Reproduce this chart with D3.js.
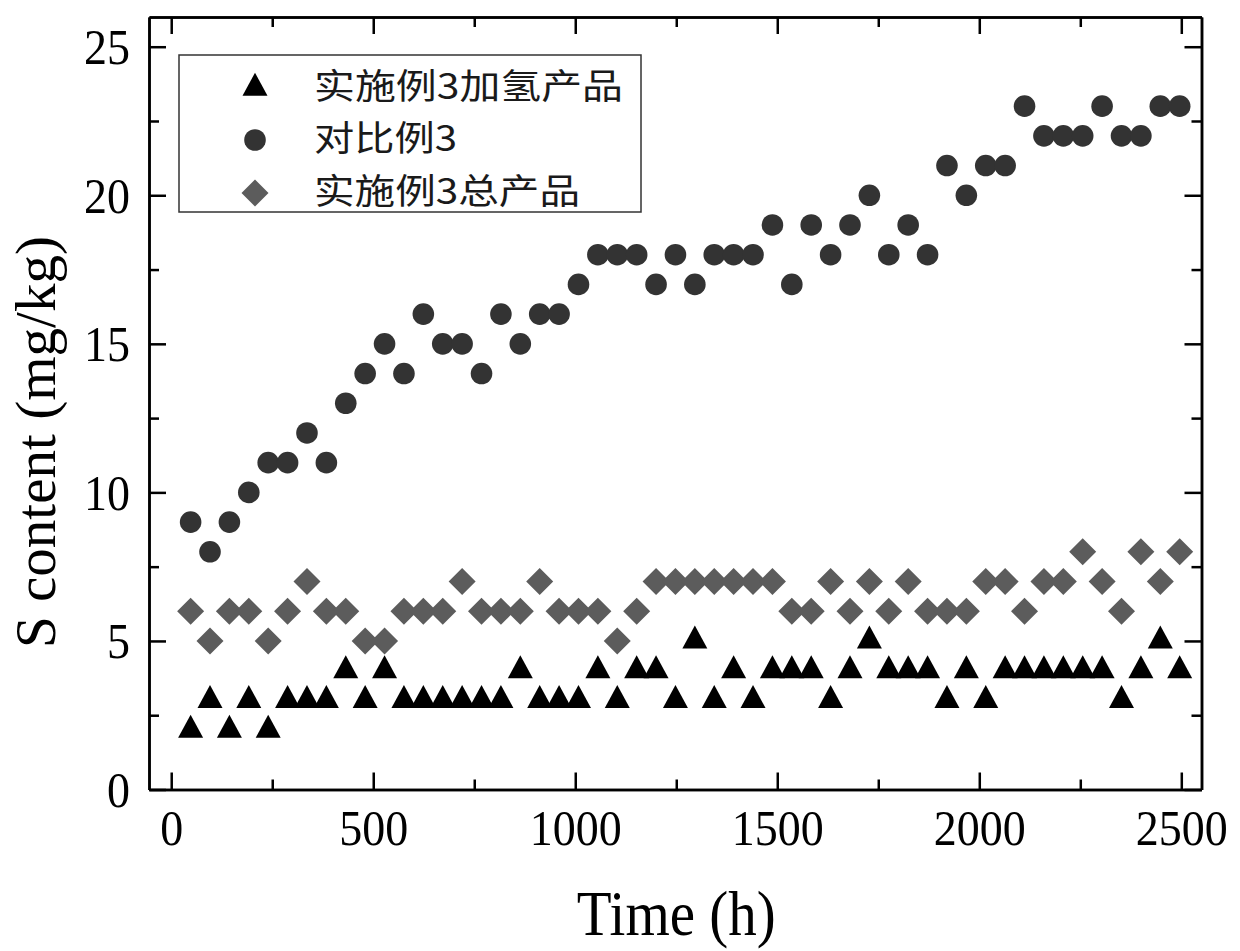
<!DOCTYPE html>
<html>
<head>
<meta charset="utf-8">
<script src="https://cdn.jsdelivr.net/npm/d3@7"></script>
<style>
  html, body { margin: 0; padding: 0; background: #ffffff; }
  svg { display: block; }
</style>
</head>
<body>
<svg id="chart" width="1240" height="951"></svg>
<script>
// ---------------- DATA ----------------
const timeHours = [48, 96, 144, 192, 240, 288, 336, 384, 432, 480,
  528, 576, 624, 672, 720, 768, 816, 864, 912, 960,
  1008, 1056, 1104, 1152, 1200, 1248, 1296, 1344, 1392, 1440,
  1488, 1536, 1584, 1632, 1680, 1728, 1776, 1824, 1872, 1920,
  1968, 2016, 2064, 2112, 2160, 2208, 2256, 2304, 2352, 2400,
  2448, 2496];

// 实施例3加氢产品 (triangles)
const hydroProduct = [2, 3, 2, 3, 2, 3, 3, 3, 4, 3,
  4, 3, 3, 3, 3, 3, 3, 4, 3, 3,
  3, 4, 3, 4, 4, 3, 5, 3, 4, 3,
  4, 4, 4, 3, 4, 5, 4, 4, 4, 3,
  4, 3, 4, 4, 4, 4, 4, 4, 3, 4,
  5, 4];

// 对比例3 (circles)
const comparative = [9, 8, 9, 10, 11, 11, 12, 11, 13, 14,
  15, 14, 16, 15, 15, 14, 16, 15, 16, 16,
  17, 18, 18, 18, 17, 18, 17, 18, 18, 18,
  19, 17, 19, 18, 19, 20, 18, 19, 18, 21,
  20, 21, 21, 23, 22, 22, 22, 23, 22, 22,
  23, 23];

// 实施例3总产品 (diamonds)
const totalProduct = [6, 5, 6, 6, 5, 6, 7, 6, 6, 5,
  5, 6, 6, 6, 7, 6, 6, 6, 7, 6,
  6, 6, 5, 6, 7, 7, 7, 7, 7, 7,
  7, 6, 6, 7, 6, 7, 6, 7, 6, 6,
  6, 7, 7, 6, 7, 7, 8, 7, 6, 8,
  7, 8];

const seriesNames = ["实施例3加氢产品", "对比例3", "实施例3总产品"];
const xTickValues = [0, 500, 1000, 1500, 2000, 2500];
const xMinorValues = [250, 750, 1250, 1750, 2250];
const yTickValues = [0, 5, 10, 15, 20, 25];
const yMinorValues = [2.5, 7.5, 12.5, 17.5, 22.5];
const xTitle = "Time (h)";
const yTitle = "S content (mg/kg)";

// ---------------- LAYOUT ----------------
const plot = { left: 149, right: 1201.5, top: 17, bottom: 789.5 };
const svg = d3.select("#chart");
svg.append("rect").attr("width", 1240).attr("height", 951).attr("fill", "#fff");

const x = d3.scaleLinear().domain([-55, 2550]).range([plot.left, plot.right]);
const y = d3.scaleLinear().domain([0, 26]).range([plot.bottom, plot.top]);

const serifFont = "'Liberation Serif', 'Times New Roman', serif";
const cjkFont = "'Noto Sans CJK SC', 'Noto Sans', sans-serif";
const axisStroke = 2.5;

// custom symbol shapes
const triangleType = {
  draw(ctx, size) {
    const w = Math.sqrt(size) * 1.0, h = w * 0.92;
    ctx.moveTo(0, -2 * h / 3);
    ctx.lineTo(w / 2, h / 3);
    ctx.lineTo(-w / 2, h / 3);
    ctx.closePath();
  }
};
const diamondType = {
  draw(ctx, size) {
    const r = Math.sqrt(size) / 2;
    ctx.moveTo(0, -r);
    ctx.lineTo(r, 0);
    ctx.lineTo(0, r);
    ctx.lineTo(-r, 0);
    ctx.closePath();
  }
};

const series = [
  { name: seriesNames[0], values: hydroProduct, type: triangleType, size: 25 * 25, color: "#000000" },
  { name: seriesNames[1], values: comparative, type: d3.symbolCircle, size: Math.PI * 10.8 * 10.8, color: "#333333" },
  { name: seriesNames[2], values: totalProduct, type: diamondType, size: 27 * 27, color: "#5c5c5c" }
];

// ---------------- AXES ----------------
function styleAxis(g) {
  g.select(".domain").attr("stroke", "#000").attr("stroke-width", axisStroke);
  g.selectAll(".tick line").attr("stroke", "#000").attr("stroke-width", axisStroke);
}

// bottom
const gB = svg.append("g").attr("transform", `translate(0,${plot.bottom})`)
  .call(d3.axisBottom(x).tickValues(xTickValues).tickSize(-17).tickSizeOuter(0).tickFormat(d3.format("d")));
styleAxis(gB);
gB.selectAll("text")
  .attr("y", 0).attr("dy", null)
  .attr("transform", "translate(0,55) scale(1,1.1)")
  .attr("font-family", serifFont).attr("font-size", 46).attr("fill", "#000");
const gBm = svg.append("g").attr("transform", `translate(0,${plot.bottom})`)
  .call(d3.axisBottom(x).tickValues(xMinorValues).tickSize(-10).tickSizeOuter(0).tickFormat(""));
styleAxis(gBm);

// top
const gT = svg.append("g").attr("transform", `translate(0,${plot.top})`)
  .call(d3.axisTop(x).tickValues(xTickValues).tickSize(-17).tickSizeOuter(0).tickFormat(""));
styleAxis(gT);
const gTm = svg.append("g").attr("transform", `translate(0,${plot.top})`)
  .call(d3.axisTop(x).tickValues(xMinorValues).tickSize(-10).tickSizeOuter(0).tickFormat(""));
styleAxis(gTm);

// left
const gL = svg.append("g").attr("transform", `translate(${plot.left},0)`)
  .call(d3.axisLeft(y).tickValues(yTickValues).tickSize(-17).tickSizeOuter(0).tickFormat(d3.format("d")));
styleAxis(gL);
gL.selectAll("text")
  .attr("x", 0).attr("dy", null)
  .attr("transform", "translate(-19,17) scale(1,1.1)")
  .attr("font-family", serifFont).attr("font-size", 46).attr("fill", "#000");
const gLm = svg.append("g").attr("transform", `translate(${plot.left},0)`)
  .call(d3.axisLeft(y).tickValues(yMinorValues).tickSize(-10).tickSizeOuter(0).tickFormat(""));
styleAxis(gLm);

// right
const gR = svg.append("g").attr("transform", `translate(${plot.right},0)`)
  .call(d3.axisRight(y).tickValues(yTickValues).tickSize(-17).tickSizeOuter(0).tickFormat(""));
styleAxis(gR);
const gRm = svg.append("g").attr("transform", `translate(${plot.right},0)`)
  .call(d3.axisRight(y).tickValues(yMinorValues).tickSize(-10).tickSizeOuter(0).tickFormat(""));
styleAxis(gRm);

// ---------------- TITLES ----------------
svg.append("text")
  .attr("transform", `translate(${(x(0) + x(2500)) / 2},935) scale(1,1.1)`)
  .attr("text-anchor", "middle")
  .attr("font-family", serifFont).attr("font-size", 57).attr("fill", "#000")
  .text(xTitle);

svg.append("text")
  .attr("transform", "translate(55,442) rotate(-90)")
  .attr("text-anchor", "middle")
  .attr("font-family", serifFont).attr("font-size", 58).attr("fill", "#000")
  .attr("textLength", 412).attr("lengthAdjust", "spacingAndGlyphs")
  .text(yTitle);

// ---------------- DATA POINTS ----------------
const symbolGen = d3.symbol();
series.forEach(s => {
  svg.append("g").selectAll("path")
    .data(s.values.map((v, i) => ({ t: timeHours[i], v })))
    .join("path")
    .attr("d", symbolGen.type(s.type).size(s.size)())
    .attr("transform", d => `translate(${x(d.t)},${y(d.v)})`)
    .attr("fill", s.color);
});

// ---------------- LEGEND ----------------
const legend = svg.append("g");
legend.append("rect")
  .attr("x", 179).attr("y", 55).attr("width", 462).attr("height", 157)
  .attr("fill", "#fff").attr("stroke", "#333").attr("stroke-width", 1.5);
const legendRowsY = [88, 140, 193];
const legendTextLen = [309, 143, 266];
series.forEach((s, i) => {
  legend.append("path")
    .attr("d", d3.symbol().type(s.type).size(s.size)())
    .attr("transform", `translate(255,${legendRowsY[i]})`)
    .attr("fill", s.color);
  legend.append("text")
    .attr("x", 314).attr("y", legendRowsY[i] + 11)
    .attr("font-family", cjkFont).attr("font-size", 35).attr("fill", "#1a1a1a")
    .attr("textLength", legendTextLen[i]).attr("lengthAdjust", "spacingAndGlyphs")
    .text(s.name);
});
</script>
</body>
</html>
